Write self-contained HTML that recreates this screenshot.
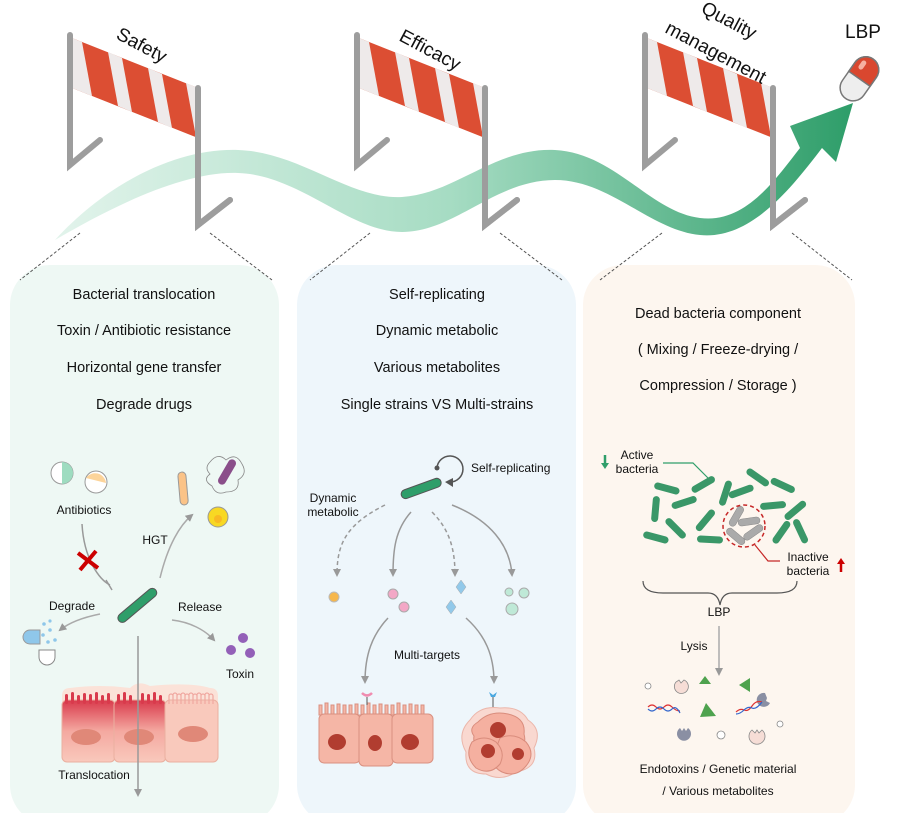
<!DOCTYPE html>
<html><head><meta charset="utf-8"><style>
body{margin:0;background:#fff}
svg{display:block}
text{font-family:"Liberation Sans",Arial,sans-serif;fill:#111}
</style></head><body>
<svg width="897" height="813" viewBox="0 0 897 813" xmlns="http://www.w3.org/2000/svg">
<defs>
<linearGradient id="wg" x1="50" y1="0" x2="850" y2="0" gradientUnits="userSpaceOnUse">
<stop offset="0" stop-color="#e3f4ec"/><stop offset="0.5" stop-color="#a6dcc3"/><stop offset="1" stop-color="#2f9e6a"/>
</linearGradient>
<linearGradient id="cellR" x1="0" y1="0" x2="0" y2="1"><stop offset="0" stop-color="#d93a4c"/><stop offset="0.5" stop-color="#f4a8a0"/><stop offset="1" stop-color="#f9c9bc"/></linearGradient>
<marker id="ah" markerWidth="8" markerHeight="8" refX="6" refY="4" orient="auto" markerUnits="userSpaceOnUse"><path d="M0,0 L8,4 L0,8z" fill="#999"/></marker>
<g id="barrier">
<polygon points="72,38 198,88 198,138 72,88" fill="#dc4e33"/>
<g fill="#eeeaea">
<polygon points="72,38 82,42 92,96 72,88"/>
<polygon points="108,52 122,58 132,112 118,106"/>
<polygon points="148,68 162,74 172,128 158,122"/>
<polygon points="186,83 198,88 198,138 196,137"/>
</g>
<g stroke="#9d9d9d" stroke-width="6" stroke-linecap="round" fill="none">
<path d="M70,35 V165 L100,140"/>
<path d="M198,88 V225 L230,200"/>
</g>
</g>
</defs>

<rect x="10" y="265" width="269" height="560" rx="40" fill="#eef8f4"/>
<rect x="297" y="265" width="279" height="560" rx="40" fill="#eef6fb"/>
<rect x="583" y="265" width="272" height="560" rx="40" fill="#fdf6ef"/>

<g stroke="#555" stroke-width="1" stroke-dasharray="3,2">
<line x1="80" y1="233" x2="20" y2="280"/><line x1="210" y1="233" x2="272" y2="280"/>
<line x1="370" y1="233" x2="310" y2="280"/><line x1="500" y1="233" x2="562" y2="280"/>
<line x1="662" y1="233" x2="600" y2="280"/><line x1="792" y1="233" x2="852" y2="280"/>
</g>

<use href="#barrier"/>
<use href="#barrier" x="287"/>
<use href="#barrier" x="575"/>

<path d="M55,240 C110,180 180,148 238,150 C300,152 350,200 402,197 C455,194 495,147 555,150 C615,153 650,212 700,218 C745,224 775,180 800,148 L790,126 L853,103 L836,162 L822,148 C790,190 750,240 700,235 C650,230 610,180 555,180 C495,180 455,232 402,232 C350,232 300,175 238,173 C185,171 115,205 55,240 Z" fill="url(#wg)"/>
<g stroke="#9d9d9d" stroke-width="6" stroke-linecap="round" fill="none">
<path d="M198,140 V225 L230,200"/><path d="M485,140 V225 L517,200"/><path d="M773,140 V225 L805,200"/>
</g>

<text x="115" y="38" font-size="19" transform="rotate(28 115 38)">Safety</text>
<text x="398" y="40" font-size="19" transform="rotate(28 398 40)">Efficacy</text>
<text x="700" y="12" font-size="19" transform="rotate(28 700 12)">Quality</text>
<text x="664" y="32" font-size="19" transform="rotate(28 664 32)">management</text>
<text x="845" y="38" font-size="19">LBP</text>
<g transform="rotate(35 860 78)">
<rect x="847" y="55" width="26" height="48" rx="13" fill="#eeeeee" stroke="#777" stroke-width="1.5"/>
<path d="M847,79 V68 A13,13 0 0 1 873,68 V79 Z" fill="#d9472f" stroke="#777" stroke-width="1.5"/>
<rect x="852" y="61" width="5" height="10" rx="2.5" fill="#f6b0a0"/>
</g>

<g font-size="14.5" text-anchor="middle">
<text x="144" y="299">Bacterial translocation</text>
<text x="144" y="335">Toxin / Antibiotic resistance</text>
<text x="144" y="372">Horizontal gene transfer</text>
<text x="144" y="409">Degrade drugs</text>
<text x="437" y="299">Self-replicating</text>
<text x="437" y="335">Dynamic metabolic</text>
<text x="437" y="372">Various metabolites</text>
<text x="437" y="409">Single strains VS Multi-strains</text>
<text x="718" y="318">Dead bacteria component</text>
<text x="718" y="354">( Mixing / Freeze-drying /</text>
<text x="718" y="390">Compression / Storage )</text>
</g>

<!-- LEFT PANEL -->
<circle cx="62" cy="473" r="11" fill="#fff" stroke="#999"/><path d="M62,462 A11,11 0 0 1 62,484 Z" fill="#9edcc0"/>
<circle cx="96" cy="482" r="11" fill="#fff" stroke="#999"/><path d="M86,478 A11,11 0 0 1 106,483 Z" fill="#fcd49a"/>
<text x="84" y="514" font-size="12" text-anchor="middle">Antibiotics</text>
<path d="M82,524 C84,560 100,580 110,585" stroke="#999" stroke-width="1.5" fill="none"/>
<line x1="106" y1="580" x2="112" y2="590" stroke="#999" stroke-width="1.5"/>
<path d="M78,553 L98,568 M96,551 L80,570" stroke="#c00" stroke-width="4"/>
<rect x="113" y="601" width="48" height="9" rx="4.5" fill="#2f9e6a" stroke="#555" transform="rotate(-40 137 605)"/>
<path d="M160,578 C168,545 180,525 192,515" stroke="#aaa" stroke-width="1.5" fill="none" marker-end="url(#ah)"/>
<text x="155" y="544" font-size="12" text-anchor="middle">HGT</text>
<rect x="179" y="472" width="8" height="33" rx="4" fill="#fbc387" stroke="#999" transform="rotate(-5 183 488)"/>
<rect x="223" y="458" width="8" height="28" rx="4" fill="#8a4e8a" transform="rotate(30 227 472)"/>
<path d="M210,462 q8,-10 16,-2 q10,-8 16,4 q6,10 -4,16 q2,12 -12,12 q-10,4 -14,-6 q-10,-6 -2,-12 q-6,-6 0,-12" fill="none" stroke="#888" stroke-width="0.8"/>
<circle cx="218" cy="517" r="10" fill="#f8d823" stroke="#999"/><circle cx="218" cy="519" r="4" fill="#f9b923"/>
<text x="72" y="610" font-size="12" text-anchor="middle">Degrade</text>
<path d="M100,614 C85,617 70,622 60,630" stroke="#aaa" stroke-width="1.5" fill="none" marker-end="url(#ah)"/>
<path d="M30,630 h10 v14 h-10 a7,7 0 0 1 0,-14z" fill="#8fc7ea" stroke="#999"/>
<g fill="#8fc7ea"><circle cx="44" cy="624" r="1.8"/><circle cx="50" cy="630" r="1.8"/><circle cx="43" cy="635" r="1.8"/><circle cx="55" cy="640" r="1.8"/><circle cx="48" cy="642" r="1.8"/><circle cx="50" cy="621" r="1.6"/></g>
<path d="M39,650 h16 v7 a8,8 0 0 1 -16,0z" fill="#fff" stroke="#888"/>
<text x="200" y="611" font-size="12" text-anchor="middle">Release</text>
<path d="M172,620 C190,622 205,630 214,640" stroke="#aaa" stroke-width="1.5" fill="none" marker-end="url(#ah)"/>
<g fill="#9360b8"><circle cx="243" cy="638" r="5"/><circle cx="231" cy="650" r="5"/><circle cx="250" cy="653" r="5"/></g>
<text x="240" y="678" font-size="12" text-anchor="middle">Toxin</text>
<!-- epithelium -->
<path d="M62,696 Q62,688 70,688 Q100,684 130,688 Q138,680 150,686 Q190,682 210,688 Q218,688 218,696 V720 H62 Z" fill="#fbe2d8"/>
<rect x="62" y="700" width="53" height="62" rx="5" fill="url(#cellR)" stroke="#eab0a0"/>
<rect x="114" y="700" width="52" height="62" rx="5" fill="url(#cellR)" stroke="#eab0a0"/>
<rect x="165" y="700" width="53" height="62" rx="5" fill="#f9c9bc" stroke="#eab0a0"/>
<g fill="#d93a4c">
<rect x="65" y="694" width="3" height="10" rx="1.5"/><rect x="71" y="692" width="3" height="12" rx="1.5"/><rect x="77" y="695" width="3" height="9" rx="1.5"/><rect x="83" y="693" width="3" height="11" rx="1.5"/><rect x="89" y="694" width="3" height="10" rx="1.5"/><rect x="95" y="692" width="3" height="12" rx="1.5"/><rect x="101" y="695" width="3" height="9" rx="1.5"/><rect x="107" y="693" width="3" height="11" rx="1.5"/>
<rect x="117" y="694" width="3" height="10" rx="1.5"/><rect x="123" y="692" width="3" height="12" rx="1.5"/><rect x="129" y="695" width="3" height="9" rx="1.5"/><rect x="141" y="693" width="3" height="11" rx="1.5"/><rect x="147" y="694" width="3" height="10" rx="1.5"/><rect x="153" y="692" width="3" height="12" rx="1.5"/><rect x="159" y="695" width="3" height="9" rx="1.5"/>
</g>
<g fill="none" stroke="#f0a8a0" stroke-width="1.2">
<path d="M169,704 v-8 a2,2 0 0 1 4,0 v8 v-9 a2,2 0 0 1 4,0 v9 v-8 a2,2 0 0 1 4,0 v8 v-9 a2,2 0 0 1 4,0 v9 v-8 a2,2 0 0 1 4,0 v8 v-9 a2,2 0 0 1 4,0 v9 v-8 a2,2 0 0 1 4,0 v8 v-9 a2,2 0 0 1 4,0 v9 v-8 a2,2 0 0 1 4,0 v8 v-9 a2,2 0 0 1 4,0 v9 v-8 a2,2 0 0 1 4,0 v8"/>
</g>
<ellipse cx="86" cy="737" rx="15" ry="8" fill="#e08878"/>
<ellipse cx="139" cy="737" rx="15" ry="8" fill="#e08878"/>
<ellipse cx="193" cy="734" rx="15" ry="8" fill="#e08878"/>
<line x1="138" y1="636" x2="138" y2="795" stroke="#999" stroke-width="1.5" marker-end="url(#ah)"/>
<text x="94" y="779" font-size="12" text-anchor="middle">Translocation</text>

<!-- MIDDLE PANEL -->
<rect x="400" y="484" width="42" height="9" rx="4.5" fill="#2f9e6a" stroke="#555" transform="rotate(-20 421 488)"/>
<path d="M437,468 A13,13 0 1 1 450,482" stroke="#555" stroke-width="1.5" fill="none"/>
<circle cx="437" cy="468" r="2.5" fill="#555"/><path d="M453,478 L453,487 L445,482z" fill="#555"/>
<text x="471" y="472" font-size="12">Self-replicating</text>
<text x="333" y="502" font-size="12" text-anchor="middle">Dynamic</text>
<text x="333" y="516" font-size="12" text-anchor="middle">metabolic</text>
<g stroke="#999" stroke-width="1.5" fill="none">
<path d="M385,505 C345,525 337,545 337,575" stroke-dasharray="4,3" marker-end="url(#ah)"/>
<path d="M411,512 C395,530 393,550 393,575" marker-end="url(#ah)"/>
<path d="M432,512 C450,530 455,550 455,575" stroke-dasharray="4,3" marker-end="url(#ah)"/>
<path d="M452,505 C490,520 510,545 512,575" marker-end="url(#ah)"/>
<path d="M388,618 C372,635 365,655 365,682" marker-end="url(#ah)"/>
<path d="M466,618 C485,635 494,655 494,682" marker-end="url(#ah)"/>
</g>
<circle cx="334" cy="597" r="5" fill="#f6b74c" stroke="#bbb"/>
<circle cx="393" cy="594" r="5" fill="#f3a7c6" stroke="#aaa"/><circle cx="404" cy="607" r="5" fill="#f3a7c6" stroke="#aaa"/>
<path d="M461,580 l5,7 l-5,7 l-5,-7z" fill="#92c9ea" stroke="#aaa" stroke-width="0.5"/>
<path d="M451,600 l5,7 l-5,7 l-5,-7z" fill="#92c9ea" stroke="#aaa" stroke-width="0.5"/>
<circle cx="509" cy="592" r="4" fill="#bfe9d7" stroke="#aaa"/><circle cx="524" cy="593" r="5" fill="#bfe9d7" stroke="#aaa"/><circle cx="512" cy="609" r="6" fill="#bfe9d7" stroke="#aaa"/>
<text x="427" y="659" font-size="12" text-anchor="middle">Multi-targets</text>
<g fill="#f5b6a6" stroke="#d99080">
<path d="M319,715 v-10 h3 v10 h3 v-12 h3 v12 h3 v-10 h3 v10 h3 v-11 h3 v11 h3 v-10 h3 v10 h3 v-10 h3 v10 h3 v-11 h3 v11 h3 v-10 h3 v10 h3 v-12 h3 v12 h3 v-10 h3 v10 h3 v-11 h3 v11 h3 v-10 h3 v10 h3 v-10 h3 v10 h3 v-12 h3 v12 h3 v-10 h3 v10 h3 v-11 h3 v11 h3 v-10 h3 v10 h3 v-10 h3 v10 z"/>
<rect x="319" y="714" width="41" height="49" rx="5"/><rect x="359" y="714" width="34" height="52" rx="5"/><rect x="392" y="714" width="41" height="49" rx="5"/>
</g>
<path d="M362,693 q5,5 10,0" stroke="#f08cb0" stroke-width="2.5" fill="none"/><line x1="367" y1="697" x2="367" y2="705" stroke="#555"/>
<g fill="#b13d30"><ellipse cx="337" cy="742" rx="9" ry="8"/><ellipse cx="375" cy="743" rx="7" ry="8"/><ellipse cx="410" cy="742" rx="9" ry="8"/></g>
<path d="M470,720 q10,-15 30,-12 q20,-2 28,12 q15,10 6,28 q5,20 -18,24 q-15,10 -30,2 q-22,0 -20,-22 q-10,-18 4,-32z" fill="#f9d8d0" stroke="#ebb6aa"/>
<path d="M478,722 q12,-12 30,-8 q18,4 16,20 q4,14 -12,18 q-12,8 -26,0 q-14,-4 -12,-16 q-6,-8 4,-14z" fill="#f5b0a0" stroke="#d98c7c"/>
<path d="M500,738 q14,-6 26,4 q10,12 0,24 q-10,12 -24,6 q-12,-6 -8,-18z" fill="#f5b0a0" stroke="#d98c7c"/>
<path d="M472,742 q12,-8 24,0 q10,10 4,22 q-10,12 -24,4 q-12,-12 -4,-26z" fill="#f5b0a0" stroke="#d98c7c"/>
<g fill="#b13d30"><circle cx="498" cy="730" r="8"/><circle cx="488" cy="751" r="7"/><circle cx="518" cy="754" r="6"/></g>
<path d="M489,692 l4,3 l4,-3 l-2,5 h-4z" fill="#4aa8e0"/><line x1="493" y1="697" x2="493" y2="707" stroke="#555"/>

<!-- RIGHT PANEL -->
<path d="M605,455 v10" stroke="#2f9e6a" stroke-width="2.5"/><path d="M601,463 l4,6 l4,-6z" fill="#2f9e6a"/>
<text x="637" y="459" font-size="12" text-anchor="middle">Active</text>
<text x="637" y="473" font-size="12" text-anchor="middle">bacteria</text>
<path d="M663,463 h30 l17,17" stroke="#2f9e6a" stroke-width="1.2" fill="none"/>
<g fill="#3a9768">
<rect x="654" y="485" width="26" height="7" rx="3.5" transform="rotate(15 667 488)"/>
<rect x="690" y="481" width="26" height="7" rx="3.5" transform="rotate(-30 703 484)"/>
<rect x="712" y="490" width="26" height="7" rx="3.5" transform="rotate(-72 725 493)"/>
<rect x="745" y="474" width="26" height="7" rx="3.5" transform="rotate(35 758 477)"/>
<rect x="770" y="482" width="26" height="7" rx="3.5" transform="rotate(25 783 485)"/>
<rect x="728" y="488" width="26" height="7" rx="3.5" transform="rotate(-20 741 491)"/>
<rect x="642" y="506" width="26" height="7" rx="3.5" transform="rotate(-85 655 509)"/>
<rect x="671" y="499" width="26" height="7" rx="3.5" transform="rotate(-18 684 502)"/>
<rect x="692" y="517" width="26" height="7" rx="3.5" transform="rotate(-50 705 520)"/>
<rect x="760" y="502" width="26" height="7" rx="3.5" transform="rotate(-5 773 505)"/>
<rect x="782" y="507" width="26" height="7" rx="3.5" transform="rotate(-40 795 510)"/>
<rect x="663" y="525" width="26" height="7" rx="3.5" transform="rotate(45 676 528)"/>
<rect x="643" y="534" width="26" height="7" rx="3.5" transform="rotate(15 656 537)"/>
<rect x="697" y="536" width="26" height="7" rx="3.5" transform="rotate(3 710 539)"/>
<rect x="768" y="529" width="26" height="7" rx="3.5" transform="rotate(-55 781 532)"/>
<rect x="788" y="528" width="26" height="7" rx="3.5" transform="rotate(65 801 531)"/>
</g>
<g fill="#aaa" stroke="#888" stroke-width="0.5">
<rect x="725" y="513" width="22" height="7" rx="3.5" transform="rotate(-60 736 516)"/>
<rect x="738" y="518" width="22" height="7" rx="3.5" transform="rotate(-8 749 521)"/>
<rect x="742" y="529" width="22" height="7" rx="3.5" transform="rotate(-35 753 532)"/>
<rect x="725" y="533" width="22" height="7" rx="3.5" transform="rotate(40 736 536)"/>
</g>
<circle cx="744" cy="526" r="21" fill="none" stroke="#c62828" stroke-width="1.5" stroke-dasharray="4,3"/>
<path d="M755,545 l13,16 h12" stroke="#c62828" stroke-width="1.2" fill="none"/>
<text x="808" y="561" font-size="12" text-anchor="middle">Inactive</text>
<text x="808" y="575" font-size="12" text-anchor="middle">bacteria</text>
<path d="M841,572 v-10" stroke="#c00" stroke-width="2.5"/><path d="M837,564 l4,-6 l4,6z" fill="#c00"/>
<path d="M643,581 q0,12 20,12 h45 q10,0 12,12 q2,-12 12,-12 h45 q20,0 20,-12" stroke="#555" stroke-width="1.2" fill="none"/>
<text x="719" y="616" font-size="12" text-anchor="middle">LBP</text>
<line x1="719" y1="626" x2="719" y2="674" stroke="#aaa" stroke-width="1.5" marker-end="url(#ah)"/>
<text x="694" y="650" font-size="12" text-anchor="middle">Lysis</text>
<g stroke="#888" stroke-width="0.8" fill="#fff"><circle cx="648" cy="686" r="3"/><circle cx="780" cy="724" r="3"/><circle cx="721" cy="735" r="4"/></g>
<path d="M676,682 a7,7 0 1 0 8,-2 l-3,3 l-2,-3z" fill="#f6ddd6" stroke="#888" stroke-width="0.8"/>
<path d="M752,730 a8,8 0 1 0 10,0 l-3,3 l-2,-3 l-2,3z" fill="#f6ddd6" stroke="#888" stroke-width="0.8"/>
<path d="M765,693 a7,7 0 1 0 5,10 l-4,-2 l1,-3z" fill="#8a8fa3"/>
<path d="M680,728 a7,7 0 1 0 8,0 l-2,3 l-2,-3 l-2,3z" fill="#8a8fa3"/>
<g fill="#4ea24e"><polygon points="705,676 699,684 711,684"/><polygon points="750,678 750,692 739,685"/><polygon points="706,703 700,717 716,716"/></g>
<path d="M648,707 q4,-4 8,0 t8,0 t8,0 t8,4" stroke="#d33" stroke-width="1.2" fill="none"/>
<path d="M648,709 q4,4 8,0 t8,0 t8,0 t8,4" stroke="#36c" stroke-width="1.2" fill="none"/>
<path d="M736,712 q4,-4 8,-2 t8,-4 t10,-4" stroke="#d33" stroke-width="1.2" fill="none"/>
<path d="M736,714 q4,0 8,-4 t8,-2 t10,-6" stroke="#36c" stroke-width="1.2" fill="none"/>
<text x="718" y="773" font-size="12" text-anchor="middle">Endotoxins / Genetic material</text>
<text x="718" y="795" font-size="12" text-anchor="middle">/ Various metabolites</text>
</svg>
</body></html>
